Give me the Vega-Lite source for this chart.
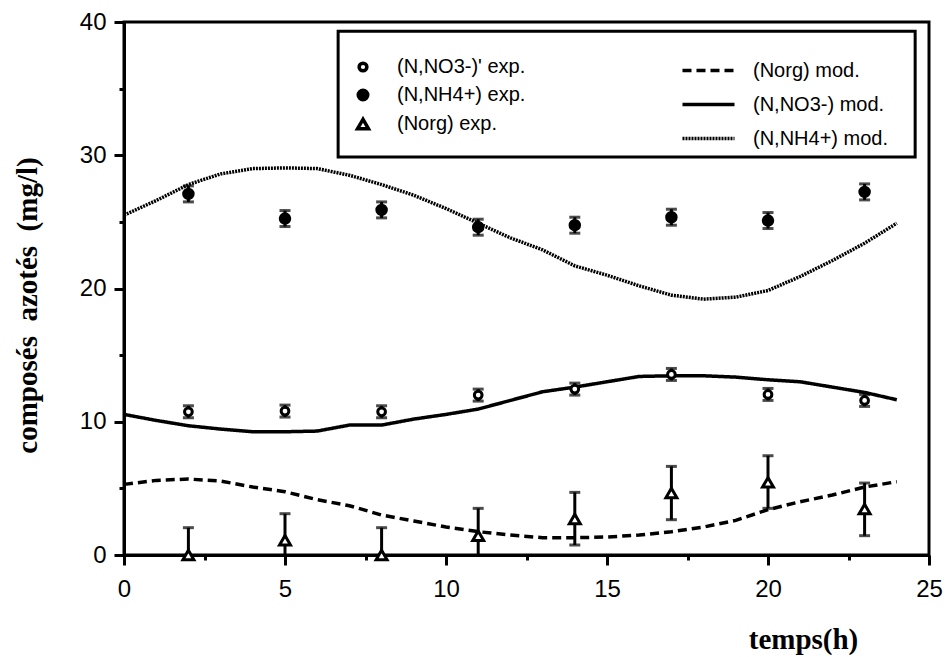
{
  "$schema": "https://vega.github.io/schema/vega-lite/v6.json",
  "width": 805,
  "height": 533,
  "autosize": {"type": "none"},
  "padding": {"left": 124, "top": 22, "right": 21, "bottom": 102},
  "background": "white",
  "config": {
    "view": {"stroke": "black", "strokeWidth": 3},
    "axis": {
      "domainColor": "black", "domainWidth": 3, "tickColor": "black", "tickWidth": 3,
      "labelFont": "Liberation Sans", "labelFontSize": 24, "labelColor": "black",
      "titleFont": "Liberation Serif", "titleFontSize": 29, "titleFontWeight": "bold", "titleColor": "black",
      "grid": false
    },
    "legend": {
      "padding": 0, "labelFont": "Liberation Sans", "labelFontSize": 20,
      "labelColor": "black", "symbolStrokeColor": "black", "orient": "none", "title": null,
      "labelLimit": 400
    }
  },
  "datasets": {
    "exp": [
      {"serie": "(N,NO3-)' exp.", "t": 2, "y": 10.75, "lo": 10.3, "hi": 11.2},
      {"serie": "(N,NO3-)' exp.", "t": 5, "y": 10.8, "lo": 10.35, "hi": 11.25},
      {"serie": "(N,NO3-)' exp.", "t": 8, "y": 10.75, "lo": 10.3, "hi": 11.2},
      {"serie": "(N,NO3-)' exp.", "t": 11, "y": 12.0, "lo": 11.55, "hi": 12.45},
      {"serie": "(N,NO3-)' exp.", "t": 14, "y": 12.45, "lo": 12.0, "hi": 12.9},
      {"serie": "(N,NO3-)' exp.", "t": 17, "y": 13.55, "lo": 13.1, "hi": 14.0},
      {"serie": "(N,NO3-)' exp.", "t": 20, "y": 12.05, "lo": 11.6, "hi": 12.5},
      {"serie": "(N,NO3-)' exp.", "t": 23, "y": 11.6, "lo": 11.15, "hi": 12.05},
      {"serie": "(N,NH4+)  exp.", "t": 2, "y": 27.1, "lo": 26.5, "hi": 27.7},
      {"serie": "(N,NH4+)  exp.", "t": 5, "y": 25.25, "lo": 24.65, "hi": 25.85},
      {"serie": "(N,NH4+)  exp.", "t": 8, "y": 25.9, "lo": 25.3, "hi": 26.5},
      {"serie": "(N,NH4+)  exp.", "t": 11, "y": 24.6, "lo": 24.0, "hi": 25.2},
      {"serie": "(N,NH4+)  exp.", "t": 14, "y": 24.75, "lo": 24.15, "hi": 25.35},
      {"serie": "(N,NH4+)  exp.", "t": 17, "y": 25.35, "lo": 24.75, "hi": 25.95},
      {"serie": "(N,NH4+)  exp.", "t": 20, "y": 25.1, "lo": 24.5, "hi": 25.7},
      {"serie": "(N,NH4+)  exp.", "t": 23, "y": 27.25, "lo": 26.65, "hi": 27.85},
      {"serie": "(Norg) exp.", "t": 2, "y": 0, "lo": 0, "hi": 2.05},
      {"serie": "(Norg) exp.", "t": 5, "y": 1.1, "lo": 0, "hi": 3.1},
      {"serie": "(Norg) exp.", "t": 8, "y": 0, "lo": 0, "hi": 2.05},
      {"serie": "(Norg) exp.", "t": 11, "y": 1.45, "lo": 0, "hi": 3.5},
      {"serie": "(Norg) exp.", "t": 14, "y": 2.7, "lo": 0.75, "hi": 4.7},
      {"serie": "(Norg) exp.", "t": 17, "y": 4.65, "lo": 2.65, "hi": 6.65},
      {"serie": "(Norg) exp.", "t": 20, "y": 5.45, "lo": 3.5, "hi": 7.45},
      {"serie": "(Norg) exp.", "t": 23, "y": 3.45, "lo": 1.45, "hi": 5.4}
    ],
    "mod": [
      {"modele": "(Norg) mod.", "t": 0, "y": 5.3}, {"modele": "(Norg) mod.", "t": 1, "y": 5.6},
      {"modele": "(Norg) mod.", "t": 2, "y": 5.7}, {"modele": "(Norg) mod.", "t": 3, "y": 5.55},
      {"modele": "(Norg) mod.", "t": 4, "y": 5.1}, {"modele": "(Norg) mod.", "t": 5, "y": 4.75},
      {"modele": "(Norg) mod.", "t": 6, "y": 4.15}, {"modele": "(Norg) mod.", "t": 7, "y": 3.7},
      {"modele": "(Norg) mod.", "t": 8, "y": 3.0}, {"modele": "(Norg) mod.", "t": 9, "y": 2.55},
      {"modele": "(Norg) mod.", "t": 10, "y": 2.1}, {"modele": "(Norg) mod.", "t": 11, "y": 1.75},
      {"modele": "(Norg) mod.", "t": 12, "y": 1.5}, {"modele": "(Norg) mod.", "t": 13, "y": 1.3},
      {"modele": "(Norg) mod.", "t": 14, "y": 1.3}, {"modele": "(Norg) mod.", "t": 15, "y": 1.35},
      {"modele": "(Norg) mod.", "t": 16, "y": 1.5}, {"modele": "(Norg) mod.", "t": 17, "y": 1.75},
      {"modele": "(Norg) mod.", "t": 18, "y": 2.1}, {"modele": "(Norg) mod.", "t": 19, "y": 2.6},
      {"modele": "(Norg) mod.", "t": 20, "y": 3.4}, {"modele": "(Norg) mod.", "t": 21, "y": 4.0},
      {"modele": "(Norg) mod.", "t": 22, "y": 4.5}, {"modele": "(Norg) mod.", "t": 23, "y": 5.1},
      {"modele": "(Norg) mod.", "t": 24, "y": 5.5},
      {"modele": "(N,NO3-) mod.", "t": 0, "y": 10.55}, {"modele": "(N,NO3-) mod.", "t": 1, "y": 10.1},
      {"modele": "(N,NO3-) mod.", "t": 2, "y": 9.7}, {"modele": "(N,NO3-) mod.", "t": 3, "y": 9.45},
      {"modele": "(N,NO3-) mod.", "t": 4, "y": 9.25}, {"modele": "(N,NO3-) mod.", "t": 5, "y": 9.25},
      {"modele": "(N,NO3-) mod.", "t": 6, "y": 9.3}, {"modele": "(N,NO3-) mod.", "t": 7, "y": 9.75},
      {"modele": "(N,NO3-) mod.", "t": 8, "y": 9.75}, {"modele": "(N,NO3-) mod.", "t": 9, "y": 10.2},
      {"modele": "(N,NO3-) mod.", "t": 10, "y": 10.55}, {"modele": "(N,NO3-) mod.", "t": 11, "y": 10.95},
      {"modele": "(N,NO3-) mod.", "t": 12, "y": 11.6}, {"modele": "(N,NO3-) mod.", "t": 13, "y": 12.25},
      {"modele": "(N,NO3-) mod.", "t": 14, "y": 12.6}, {"modele": "(N,NO3-) mod.", "t": 15, "y": 13.0},
      {"modele": "(N,NO3-) mod.", "t": 16, "y": 13.4}, {"modele": "(N,NO3-) mod.", "t": 17, "y": 13.45},
      {"modele": "(N,NO3-) mod.", "t": 18, "y": 13.45}, {"modele": "(N,NO3-) mod.", "t": 19, "y": 13.35},
      {"modele": "(N,NO3-) mod.", "t": 20, "y": 13.15}, {"modele": "(N,NO3-) mod.", "t": 21, "y": 13.0},
      {"modele": "(N,NO3-) mod.", "t": 22, "y": 12.6}, {"modele": "(N,NO3-) mod.", "t": 23, "y": 12.2},
      {"modele": "(N,NO3-) mod.", "t": 24, "y": 11.65},
      {"modele": "(N,NH4+) mod.", "t": 0, "y": 25.5}, {"modele": "(N,NH4+) mod.", "t": 1, "y": 26.6},
      {"modele": "(N,NH4+) mod.", "t": 2, "y": 27.8}, {"modele": "(N,NH4+) mod.", "t": 3, "y": 28.6},
      {"modele": "(N,NH4+) mod.", "t": 4, "y": 29.0}, {"modele": "(N,NH4+) mod.", "t": 5, "y": 29.05},
      {"modele": "(N,NH4+) mod.", "t": 6, "y": 29.0}, {"modele": "(N,NH4+) mod.", "t": 7, "y": 28.5},
      {"modele": "(N,NH4+) mod.", "t": 8, "y": 27.8}, {"modele": "(N,NH4+) mod.", "t": 9, "y": 27.0},
      {"modele": "(N,NH4+) mod.", "t": 10, "y": 26.0}, {"modele": "(N,NH4+) mod.", "t": 11, "y": 24.9},
      {"modele": "(N,NH4+) mod.", "t": 12, "y": 23.8}, {"modele": "(N,NH4+) mod.", "t": 13, "y": 22.9},
      {"modele": "(N,NH4+) mod.", "t": 14, "y": 21.7}, {"modele": "(N,NH4+) mod.", "t": 15, "y": 21.0},
      {"modele": "(N,NH4+) mod.", "t": 16, "y": 20.2}, {"modele": "(N,NH4+) mod.", "t": 17, "y": 19.5},
      {"modele": "(N,NH4+) mod.", "t": 18, "y": 19.2}, {"modele": "(N,NH4+) mod.", "t": 19, "y": 19.35},
      {"modele": "(N,NH4+) mod.", "t": 20, "y": 19.85}, {"modele": "(N,NH4+) mod.", "t": 21, "y": 20.9},
      {"modele": "(N,NH4+) mod.", "t": 22, "y": 22.1}, {"modele": "(N,NH4+) mod.", "t": 23, "y": 23.4},
      {"modele": "(N,NH4+) mod.", "t": 24, "y": 24.9}
    ],
    "cadre": [{"cadre": "legende"}]
  },
  "layer": [
    {
      "data": {"name": "cadre"},
      "mark": {"type": "rect", "fill": "white", "stroke": "black", "strokeWidth": 3},
      "encoding": {
        "x": {
          "datum": 6.65, "type": "quantitative",
          "scale": {"domain": [0, 25], "nice": false, "zero": false},
          "axis": {
            "title": "temps(h)", "values": [0, 2.5, 5, 7.5, 10, 12.5, 15, 17.5, 20, 22.5, 25],
            "labelExpr": "datum.value % 5 === 0 ? datum.label : ''",
            "tickSize": {"condition": {"test": "datum.value % 5 === 0", "value": 10}, "value": 5},
            "labelPadding": 12, "labelFlush": false,
            "titleX": 679, "titleY": 93, "titleAlign": "center", "titleBaseline": "alphabetic"
          }
        },
        "x2": {"datum": 24.57},
        "y": {
          "datum": 39.3, "type": "quantitative",
          "scale": {"domain": [0, 40], "nice": false},
          "axis": {
            "title": "composés\u00a0\u00a0azotés\u00a0\u00a0(mg/l)", "values": [0, 5, 10, 15, 20, 25, 30, 35, 40],
            "labelExpr": "datum.value % 10 === 0 ? datum.label : ''",
            "tickSize": {"condition": {"test": "datum.value % 10 === 0", "value": 10}, "value": 5},
            "labelPadding": 8, "labelFlush": false,
            "titleX": -88, "titleY": 283, "titleAngle": -90, "titleAlign": "center", "titleBaseline": "alphabetic"
          }
        },
        "y2": {"datum": 29.87}
      }
    },
    {
      "data": {"name": "mod"},
      "mark": {"type": "line", "stroke": "black", "interpolate": "linear"},
      "encoding": {
        "x": {"field": "t", "type": "quantitative"},
        "y": {"field": "y", "type": "quantitative"},
        "detail": {"field": "modele"},
        "strokeDash": {
          "field": "modele", "type": "nominal",
          "scale": {"domain": ["(Norg) mod.", "(N,NO3-) mod.", "(N,NH4+) mod."], "range": [[9, 5], [1, 0], [2, 1]]},
          "legend": {"legendX": 572, "legendY": 36, "symbolType": "M-2.5,0H2.5", "symbolSize": 433, "symbolStrokeWidth": 4, "labelOffset": 32, "rowPadding": 11}
        },
        "strokeWidth": {
          "field": "modele", "type": "nominal",
          "scale": {"domain": ["(Norg) mod.", "(N,NO3-) mod.", "(N,NH4+) mod."], "range": [3.5, 3.5, 5]},
          "legend": null
        }
      }
    },
    {
      "data": {"name": "exp"},
      "mark": {"type": "rule", "stroke": "black", "strokeWidth": 3},
      "encoding": {
        "x": {"field": "t", "type": "quantitative"},
        "y": {"field": "lo", "type": "quantitative"}, "y2": {"field": "hi"}
      }
    },
    {
      "data": {"name": "exp"},
      "mark": {"type": "tick", "orient": "horizontal", "color": "black", "size": 11, "thickness": 3},
      "encoding": {
        "x": {"field": "t", "type": "quantitative"},
        "y": {"field": "hi", "type": "quantitative"}
      }
    },
    {
      "data": {"name": "exp"},
      "transform": [{"filter": "datum.lo > 0"}],
      "mark": {"type": "tick", "orient": "horizontal", "color": "black", "size": 11, "thickness": 3},
      "encoding": {
        "x": {"field": "t", "type": "quantitative"},
        "y": {"field": "lo", "type": "quantitative"}
      }
    },
    {
      "data": {"name": "exp"},
      "mark": {"type": "point", "strokeWidth": 3, "opacity": 1, "fillOpacity": 1},
      "encoding": {
        "x": {"field": "t", "type": "quantitative"},
        "y": {"field": "y", "type": "quantitative"},
        "shape": {
          "field": "serie", "type": "nominal",
          "scale": {"domain": ["(N,NO3-)' exp.", "(N,NH4+)  exp.", "(Norg) exp."], "range": ["circle", "circle", "triangle-up"]},
          "legend": {"legendX": 229, "legendY": 35, "labelOffset": 24, "rowPadding": 5, "symbolStrokeWidth": 3.5}
        },
        "fill": {
          "field": "serie", "type": "nominal",
          "scale": {"domain": ["(N,NO3-)' exp.", "(N,NH4+)  exp.", "(Norg) exp."], "range": ["white", "black", "white"]},
          "legend": {"legendX": 229, "legendY": 35, "labelOffset": 24, "rowPadding": 5, "symbolStrokeWidth": 3.5}
        },
        "stroke": {
          "field": "serie", "type": "nominal",
          "scale": {"domain": ["(N,NO3-)' exp.", "(N,NH4+)  exp.", "(Norg) exp."], "range": ["black", "black", "black"]},
          "legend": {"legendX": 229, "legendY": 35, "labelOffset": 24, "rowPadding": 5, "symbolStrokeWidth": 3.5}
        },
        "size": {
          "field": "serie", "type": "nominal",
          "scale": {"domain": ["(N,NO3-)' exp.", "(N,NH4+)  exp.", "(Norg) exp."], "range": [60, 120, 230]},
          "legend": {"legendX": 229, "legendY": 35, "labelOffset": 24, "rowPadding": 5, "symbolStrokeWidth": 3.5}
        }
      }
    }
  ]
}
